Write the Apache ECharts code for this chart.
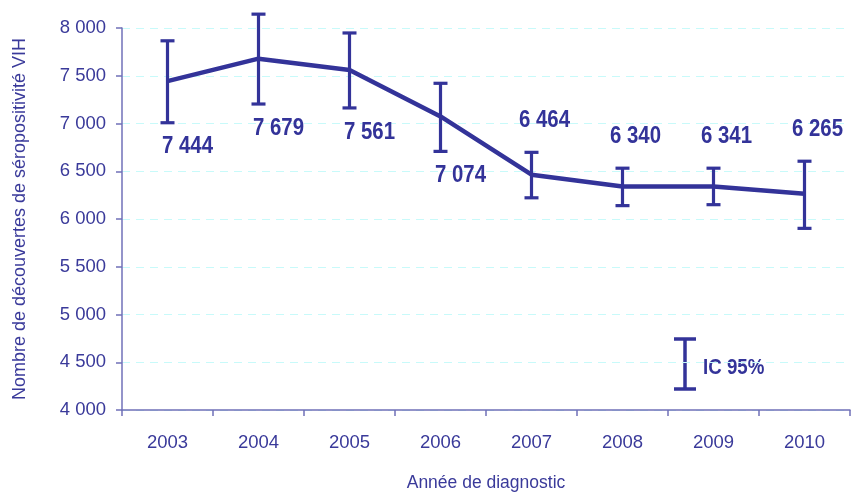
<!DOCTYPE html>
<html>
<head>
<meta charset="utf-8">
<script src="https://cdn.jsdelivr.net/npm/echarts@6/dist/echarts.min.js"></script>
<style>
html,body{margin:0;padding:0;background:#fff;}
#chart{width:852px;height:497px;}
</style>
</head>
<body>
<div id="chart"></div>
<script>
var years = ['2003','2004','2005','2006','2007','2008','2009','2010'];
var values = [7444, 7679, 7561, 7074, 6464, 6340, 6341, 6265];
var ciLow  = [7008, 7204, 7163, 6708, 6222, 6140, 6150, 5902];
var ciHigh = [7866, 8145, 7948, 7421, 6698, 6532, 6532, 6605];
var labelSide = ['below','below','below','below','above','above','above','above'];
var yTicks = [4000, 4500, 5000, 5500, 6000, 6500, 7000, 7500, 8000];

var BLUE = '#333399';
var TEXT = '#3a3a9a';
var AXIS = '#7070b8';
var FONT = '"Liberation Sans", Arial, sans-serif';

function fmt(v){ return String(v).replace(/\B(?=(\d{3})+(?!\d))/g, ' '); }

var errData = years.map(function(y, i){ return [i, ciLow[i], ciHigh[i], values[i]]; });

var chart = echarts.init(document.getElementById('chart'), null, {renderer:'canvas'});
chart.setOption({
  animation: false,
  backgroundColor: '#ffffff',
  grid: {left: 122, right: 2, top: 28, bottom: 82, containLabel: false},
  xAxis: {
    type: 'category',
    data: years,
    boundaryGap: true,
    name: 'Année de diagnostic',
    nameLocation: 'middle',
    nameGap: 64,
    nameTextStyle: {color: TEXT, fontFamily: FONT, fontSize: 17.5},
    axisLine: {lineStyle: {color: AXIS, width: 1.5}},
    axisTick: {show: true, inside: false, length: 6, alignWithLabel: false, lineStyle: {color: AXIS, width: 1.5}},
    axisLabel: {color: TEXT, fontFamily: FONT, fontSize: 18.5, margin: 23},
    splitLine: {show: false}
  },
  yAxis: {
    type: 'value',
    min: yTicks[0],
    max: yTicks[yTicks.length-1],
    interval: yTicks[1]-yTicks[0],
    name: 'Nombre de découvertes de séropositivité VIH',
    nameLocation: 'middle',
    nameGap: 93,
    nameRotate: 90,
    nameTextStyle: {color: TEXT, fontFamily: FONT, fontSize: 18},
    axisLine: {show: true, lineStyle: {color: AXIS, width: 1.5}},
    axisTick: {show: true, length: 6, lineStyle: {color: AXIS, width: 1.5}},
    axisLabel: {color: TEXT, fontFamily: FONT, fontSize: 18.5, margin: 16, formatter: function(v){ return fmt(v); }},
    splitLine: {show: true, lineStyle: {color: '#c8fafa', type: [8, 6], width: 1.2}}
  },
  series: [
    {
      type: 'line',
      data: values,
      symbol: 'none',
      lineStyle: {color: BLUE, width: 4.5},
      z: 2
    },
    {
      type: 'custom',
      data: errData,
      z: 3,
      renderItem: function(params, api){
        var i = params.dataIndex;
        var x = api.value(0), lo = api.value(1), hi = api.value(2), v = api.value(3);
        var pHi = api.coord([x, hi]);
        var pLo = api.coord([x, lo]);
        var cw = 7;
        var st = {stroke: BLUE, lineWidth: 3.2};
        var below = labelSide[i] === 'below';
        var ty = below ? pLo[1] + 24 : pHi[1] - 32;
        var tx = pHi[0] + (below ? 20 : 13);
        return {
          type: 'group',
          children: [
            {type:'line', shape:{x1:pHi[0], y1:pHi[1], x2:pLo[0], y2:pLo[1]}, style: st},
            {type:'line', shape:{x1:pHi[0]-cw, y1:pHi[1], x2:pHi[0]+cw, y2:pHi[1]}, style: st},
            {type:'line', shape:{x1:pLo[0]-cw, y1:pLo[1], x2:pLo[0]+cw, y2:pLo[1]}, style: st},
            {type:'text', x: tx, y: ty, scaleX: 0.85, style:{text: fmt(v), fill: BLUE, font: 'bold 24px ' + FONT, align:'center', verticalAlign:'middle'}}
          ]
        };
      }
    }
  ],
  graphic: [
    {type:'line', shape:{x1:685, y1:339, x2:685, y2:389}, style:{stroke: BLUE, lineWidth: 3.5}},
    {type:'line', shape:{x1:674, y1:339, x2:696, y2:339}, style:{stroke: BLUE, lineWidth: 3.5}},
    {type:'line', shape:{x1:674, y1:389, x2:696, y2:389}, style:{stroke: BLUE, lineWidth: 3.5}},
    {type:'text', x: 703, y: 368, scaleX: 0.85, style:{text:'IC 95%', fill: BLUE, font: 'bold 22px ' + FONT, align:'left', verticalAlign:'middle'}}
  ]
});
</script>
</body>
</html>
